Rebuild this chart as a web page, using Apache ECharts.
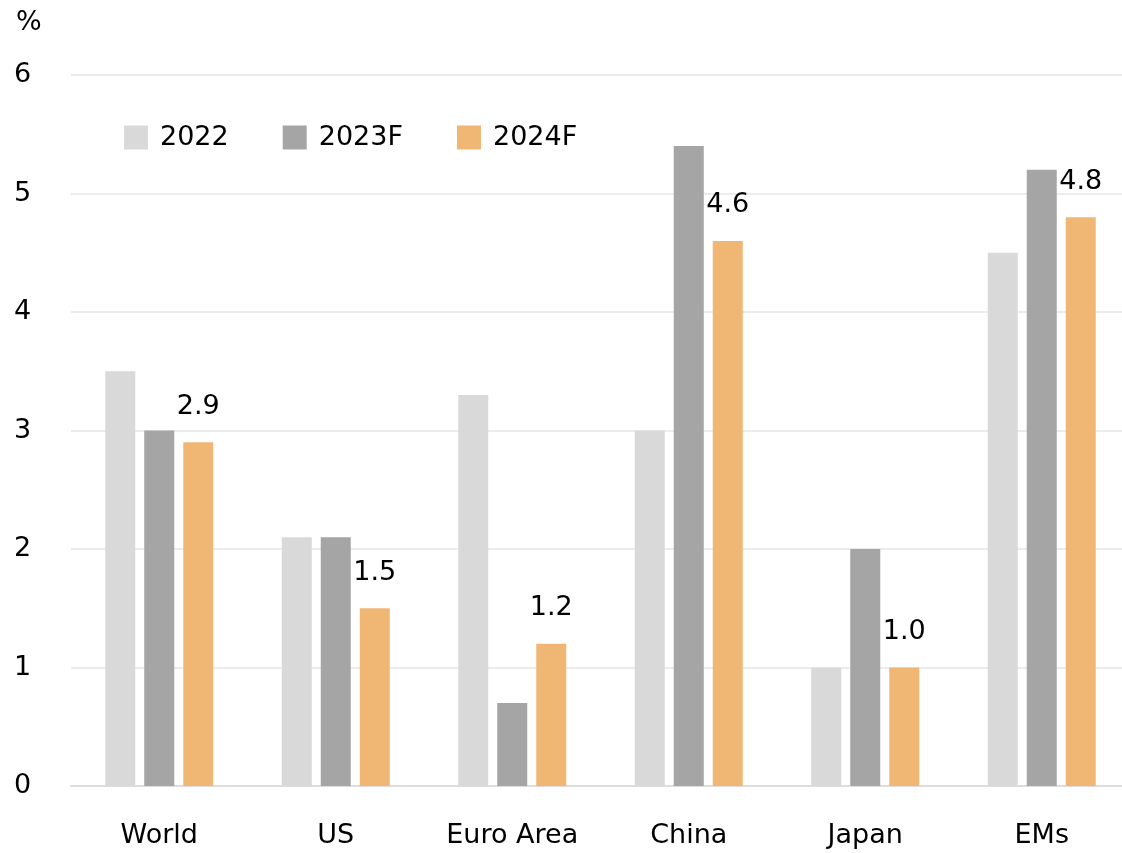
<!DOCTYPE html>
<html>
<head>
<meta charset="utf-8">
<script src="https://cdn.jsdelivr.net/npm/echarts@6/dist/echarts.min.js"></script>
<style>html,body{margin:0;padding:0;background:#fff}#c{width:1122px;height:853px}</style>
</head>
<body>
<div id="c"></div>
<script>
const categories = ['World', 'US', 'Euro Area', 'China', 'Japan', 'EMs'];
const s2022 = [3.5, 2.1, 3.3, 3.0, 1.0, 4.5];
const s2023F = [3.0, 2.1, 0.7, 5.4, 2.0, 5.2];
const s2024F = [2.9, 1.5, 1.2, 4.6, 1.0, 4.8];
const yTicks = [0, 1, 2, 3, 4, 5, 6];

const FONT = '"DejaVu Sans", sans-serif';
const chart = echarts.init(document.getElementById('c'));
chart.setOption({
  animation: false,
  title: { text: '%', left: 11, top: 4, textStyle: { fontFamily: FONT, fontSize: 27, fontWeight: 'normal', color: '#000' } },
  legend: {
    left: 124, top: 124, padding: 0,
    itemWidth: 24, itemHeight: 24, itemGap: 54,
    icon: 'rect',
    textStyle: { fontFamily: FONT, fontSize: 27, color: '#000', padding: [0, 0, 9, 7] },
    data: ['2022', '2023F', '2024F']
  },
  grid: { left: 71, top: 75, width: 1059, bottom: 67, containLabel: false, outerBoundsMode: 'none' },
  xAxis: {
    type: 'category', data: categories,
    axisLine: { lineStyle: { color: '#e0dcdc', width: 2 } },
    axisTick: { show: false },
    axisLabel: { fontFamily: FONT, fontSize: 27, color: '#000', margin: 36 }
  },
  yAxis: {
    type: 'value', min: 0, max: 6, interval: 1,
    axisLine: { show: false }, axisTick: { show: false },
    splitLine: { lineStyle: { color: '#e8e4e4', width: 1.5 } },
    axisLabel: { fontFamily: FONT, fontSize: 27, color: '#000', align: 'left', margin: 57,
      formatter: v => yTicks.includes(v) ? String(v) : '' }
  },
  series: [
    { name: '2022', type: 'bar', data: s2022, barWidth: 30, barGap: '30%', itemStyle: { color: '#d9d9d9' } },
    { name: '2023F', type: 'bar', data: s2023F, barWidth: 30, barGap: '30%', itemStyle: { color: '#a5a5a5' } },
    { name: '2024F', type: 'bar', data: s2024F, barWidth: 30, barGap: '30%', itemStyle: { color: '#f0b674' },
      label: { show: true, position: 'top', distance: 22, fontFamily: FONT, fontSize: 27, color: '#000',
        formatter: p => p.value.toFixed(1) } }
  ]
});
</script>
</body>
</html>
